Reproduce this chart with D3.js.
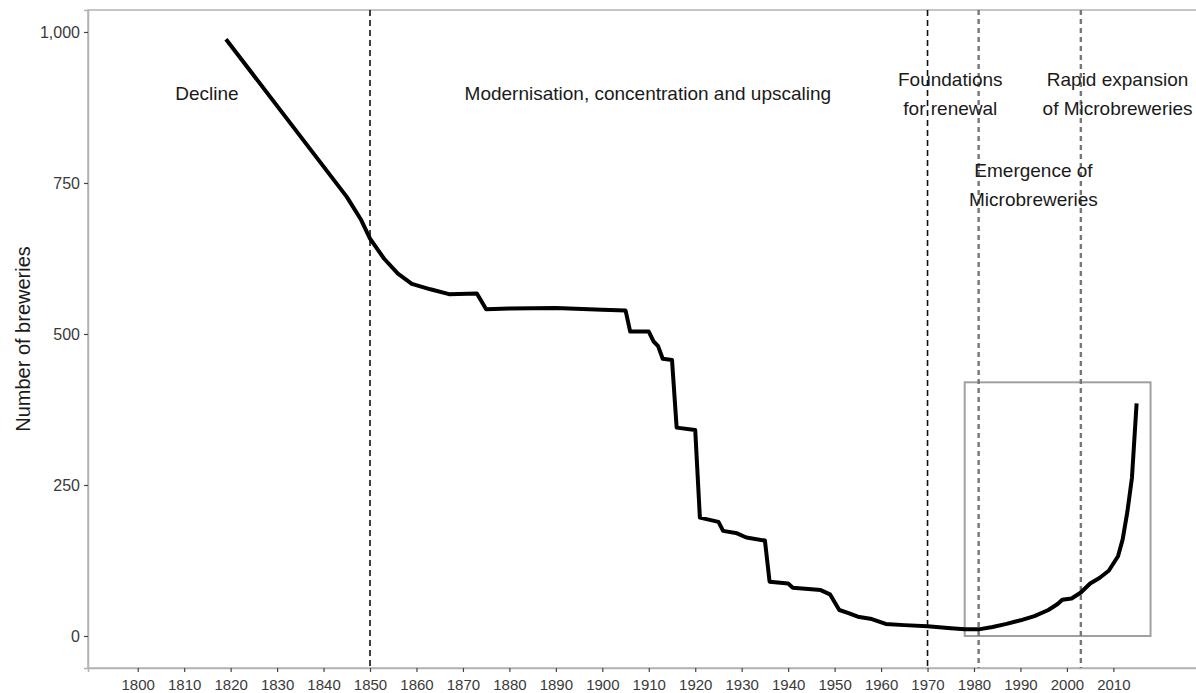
<!DOCTYPE html>
<html>
<head>
<meta charset="utf-8">
<script src="https://cdn.jsdelivr.net/npm/d3@7"></script>
<style>
    body { margin: 0; background: #fff; }
    svg { display: block; font-family: "Liberation Sans", Arial, sans-serif; }
</style>
</head>
<body>
<div id="chart"></div>
<script>
/* Data: number of breweries by year */
var years = [1819, 1845, 1848, 1850, 1853, 1856, 1859, 1863, 1867, 1873, 1875, 1880, 1890, 1900, 1905, 1906,
    1910, 1911, 1912, 1913, 1915, 1916, 1920, 1921, 1925, 1926, 1929, 1931, 1935, 1936, 1940, 1941, 1947,
    1949, 1951, 1953, 1955, 1958, 1961, 1965, 1970, 1975, 1978, 1981, 1984, 1987, 1990, 1993, 1996, 1998,
    1999, 2001, 2003, 2005, 2007, 2009, 2010, 2011, 2012, 2013, 2014, 2015];
var breweries = [988, 727, 690, 658, 625, 600, 583, 574, 566, 567, 541, 542, 543, 540, 539, 504,
    504, 488, 480, 459, 457, 345, 341, 196, 189, 174, 170, 163, 158, 90, 87, 80, 76,
    69, 43, 38, 32, 28, 20, 18, 16, 13, 11, 11, 15, 20, 26, 33, 43, 53,
    60, 62, 72, 87, 96, 108, 120, 132, 160, 205, 262, 385];

/* Period boundaries */
var phaseYears = [1850, 1970];
var microYears = [1981, 2003];

/* Highlight box */
var boxYears = [1978, 2018];
var boxCounts = [0, 420];

/* Period labels */
var labelLines = [["Decline"], ["Modernisation, concentration and upscaling"], ["Foundations", "for renewal"],
    ["Rapid expansion", "of Microbreweries"], ["Emergence of", "Microbreweries"]];
var labelYears = [1814.9, 1909.8, 1974.9, 2010.9, 1992.8];
var labelCounts = [887, 887, 910, 910, 760];

var xTicks = d3.range(1800, 2011, 10);
var yTicks = [0, 250, 500, 750, 1000];

var width = 1196, height = 693;
var margin = { left: 88, right: -5, top: 10, bottom: 25 };

var svg = d3.select("#chart").append("svg")
    .attr("width", width)
    .attr("height", height);

var x = d3.scaleLinear()
    .domain([1789.3, 2028.86])
    .range([margin.left, width - margin.right]);

var y = d3.scaleLinear()
    .domain([-52.98, 1036.4])
    .range([height - margin.bottom, margin.top]);

/* panel border */
svg.append("rect")
    .attr("x", x.range()[0])
    .attr("y", y.range()[1])
    .attr("width", x.range()[1] - x.range()[0])
    .attr("height", y.range()[0] - y.range()[1])
    .attr("fill", "none")
    .attr("stroke", "#b3b3b3")
    .attr("stroke-width", 1.5);

/* axes */
var xAxis = svg.append("g")
    .attr("transform", "translate(0," + y.range()[0] + ")")
    .call(d3.axisBottom(x).tickValues(xTicks).tickFormat(d3.format("d")).tickSize(4).tickPadding(7));
var yAxis = svg.append("g")
    .attr("transform", "translate(" + x.range()[0] + ",0)")
    .call(d3.axisLeft(y).tickValues(yTicks).tickFormat(d3.format(",")).tickSize(4).tickPadding(4));

[xAxis, yAxis].forEach(function(g) {
    g.select(".domain").attr("stroke", "#b3b3b3").attr("stroke-width", 1.5);
    g.selectAll(".tick line").attr("stroke", "#444").attr("stroke-width", 1.2);
    g.selectAll(".tick text")
        .attr("fill", "#3a3a3a")
        .style("font-family", "'Liberation Sans', Arial, sans-serif");
});
xAxis.selectAll(".tick text").style("font-size", "15px");
yAxis.selectAll(".tick text").style("font-size", "16px");

svg.append("text")
    .attr("transform", "translate(23," + ((y.range()[0] + y.range()[1]) / 2) + ") rotate(-90)")
    .attr("text-anchor", "middle")
    .attr("dy", "0.35em")
    .style("font-size", "20px")
    .attr("fill", "#1a1a1a")
    .text("Number of breweries");

/* highlight box */
svg.append("rect")
    .attr("x", x(boxYears[0]))
    .attr("y", y(boxCounts[1]))
    .attr("width", x(boxYears[1]) - x(boxYears[0]))
    .attr("height", y(boxCounts[0]) - y(boxCounts[1]))
    .attr("fill", "none")
    .attr("stroke", "#a0a0a0")
    .attr("stroke-width", 2);

/* period lines */
svg.selectAll("line.phase")
    .data(phaseYears)
    .enter()
    .append("line")
    .attr("class", "phase")
    .attr("x1", function(d) { return x(d); })
    .attr("x2", function(d) { return x(d); })
    .attr("y1", y.range()[1])
    .attr("y2", y.range()[0])
    .attr("stroke", "#111")
    .attr("stroke-width", 1.6)
    .attr("stroke-dasharray", "6,4");

svg.selectAll("line.micro")
    .data(microYears)
    .enter()
    .append("line")
    .attr("class", "micro")
    .attr("x1", function(d) { return x(d); })
    .attr("x2", function(d) { return x(d); })
    .attr("y1", y.range()[1])
    .attr("y2", y.range()[0])
    .attr("stroke", "#777")
    .attr("stroke-width", 2.4)
    .attr("stroke-dasharray", "5,4");

/* the brewery line */
var line = d3.line()
    .x(function(d) { return x(d[0]); })
    .y(function(d) { return y(d[1]); });

svg.append("path")
    .datum(d3.zip(years, breweries))
    .attr("d", line)
    .attr("fill", "none")
    .attr("stroke", "#000")
    .attr("stroke-width", 4)
    .attr("stroke-linejoin", "round");

/* period labels */
var labels = svg.selectAll("text.period")
    .data(labelLines)
    .enter()
    .append("text")
    .attr("class", "period")
    .attr("text-anchor", "middle")
    .attr("fill", "#1a1a1a")
    .style("font-size", "19px")
    .attr("x", function(d, i) { return x(labelYears[i]); })
    .attr("y", function(d, i) { return y(labelCounts[i]); });

labels.selectAll("tspan")
    .data(function(d) { return d; })
    .enter()
    .append("tspan")
    .attr("x", function() { return d3.select(this.parentNode).attr("x"); })
    .attr("dy", function(d, i) { return i == 0 ? 0 : 29; })
    .text(function(d) { return d; });
</script>
</body>
</html>
